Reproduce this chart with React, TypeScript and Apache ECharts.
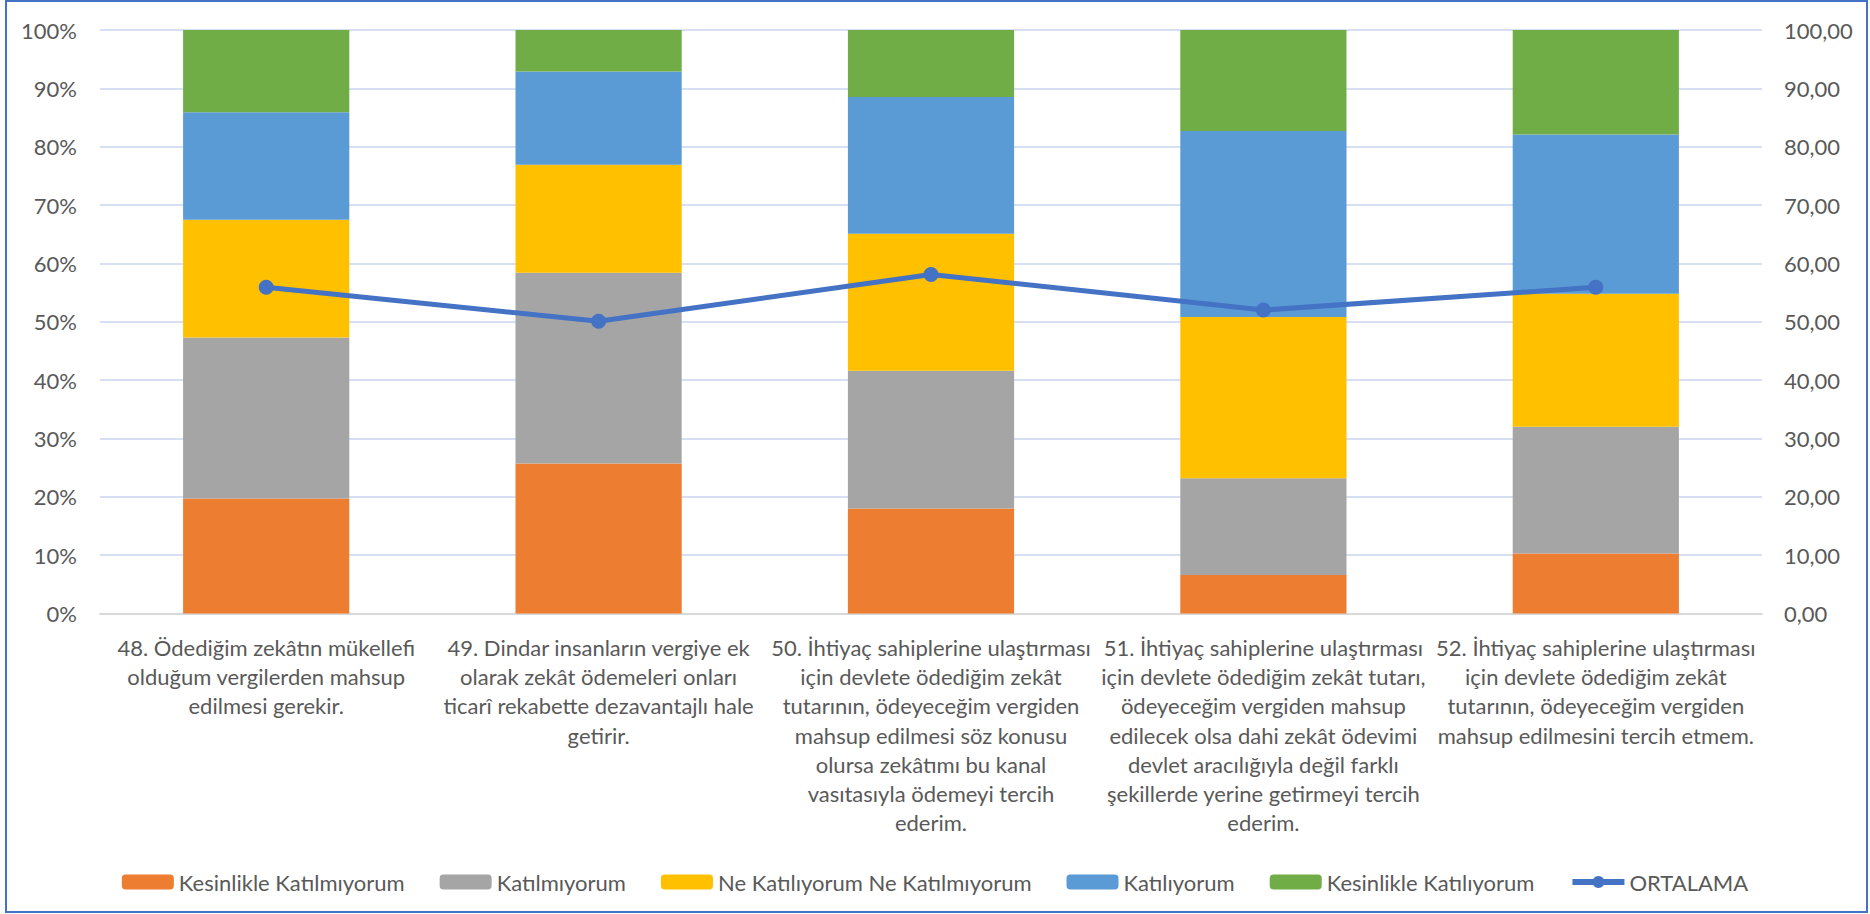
import React, { useEffect, useRef } from "react";
import * as echarts from "echarts";

const categories = [
  "48. Ödediğim zekâtın mükellefi\nolduğum vergilerden mahsup\nedilmesi gerekir.",
  "49. Dindar insanların vergiye ek\nolarak zekât ödemeleri onları\nticarî rekabette dezavantajlı hale\ngetirir.",
  "50. İhtiyaç sahiplerine ulaştırması\niçin devlete ödediğim zekât\ntutarının, ödeyeceğim vergiden\nmahsup edilmesi söz konusu\nolursa zekâtımı bu kanal\nvasıtasıyla ödemeyi tercih\nederim.",
  "51. İhtiyaç sahiplerine ulaştırması\niçin devlete ödediğim zekât tutarı,\nödeyeceğim vergiden mahsup\nedilecek olsa dahi zekât ödevimi\ndevlet aracılığıyla değil farklı\nşekillerde yerine getirmeyi tercih\nederim.",
  "52. İhtiyaç sahiplerine ulaştırması\niçin devlete ödediğim zekât\ntutarının, ödeyeceğim vergiden\nmahsup edilmesini tercih etmem.",
];

const seriesNames = [
  "Kesinlikle Katılmıyorum",
  "Katılmıyorum",
  "Ne Katılıyorum Ne Katılmıyorum",
  "Katılıyorum",
  "Kesinlikle Katılıyorum",
];
const lineName = "ORTALAMA";

const kesinlikleKatilmiyorum = [19.7, 25.7, 18.0, 6.6, 10.3];
const katilmiyorum = [27.6, 32.7, 23.6, 16.6, 21.7];
const neKatiliyorumNeKatilmiyorum = [20.2, 18.5, 23.5, 27.6, 22.8];
const katiliyorum = [18.4, 16.0, 23.4, 31.9, 27.3];
const kesinlikleKatiliyorum = [14.1, 7.1, 11.5, 17.3, 17.9];
const ortalama = [55.9, 50.1, 58.1, 52.0, 55.9];

const barColors = ["#ED7D31", "#A5A5A5", "#FFC000", "#5B9BD5", "#70AD47"];
const lineColor = "#4472C4";

const FONT = "Lato";
const FS = 22;
const TXT = "#595959";

export default function App() {
  const ref = useRef<HTMLDivElement>(null);
  useEffect(() => {
    if (!ref.current) return;
    const chart = echarts.init(ref.current, null, { renderer: "svg" });
    const barData = [
      kesinlikleKatilmiyorum,
      katilmiyorum,
      neKatiliyorumNeKatilmiyorum,
      katiliyorum,
      kesinlikleKatiliyorum,
    ];
    chart.setOption({
      animation: false,
      backgroundColor: "#ffffff",
      textStyle: { fontFamily: FONT, color: TXT },
      grid: { left: 100, right: 108, top: 30, bottom: 300.5, containLabel: false },
      graphic: [
        {
          type: "rect",
          shape: { x: 6, y: 1, width: 1861, height: 911 },
          style: { fill: "none", stroke: "#4472C4", lineWidth: 2 },
          silent: true,
        },
      ],
      legend: {
        left: "center",
        top: 866,
        itemWidth: 52,
        itemHeight: 15,
        itemGap: 35,
        textStyle: { fontFamily: FONT, fontSize: FS, color: TXT },
        lineStyle: { width: 6 },
        data: [...seriesNames, lineName],
      },
      xAxis: {
        type: "category",
        data: categories,
        axisTick: { show: false },
        axisLine: { show: true, lineStyle: { color: "#D9D9D9", width: 2 } },
        axisLabel: {
          interval: 0,
          margin: 19,
          fontFamily: FONT,
          fontSize: FS,
          color: TXT,
          lineHeight: 29.3,
          align: "center",
        },
      },
      yAxis: [
        {
          type: "value",
          min: 0,
          max: 100,
          interval: 10,
          axisLine: { show: false },
          axisTick: { show: false },
          splitLine: { lineStyle: { color: "#C9D6EE", width: 1.5 } },
          axisLabel: {
            margin: 23,
            fontFamily: FONT,
            fontSize: FS,
            color: TXT,
            formatter: (v: number) => `${v}%`,
          },
        },
        {
          type: "value",
          min: 0,
          max: 100,
          interval: 10,
          position: "right",
          axisLine: { show: false },
          axisTick: { show: false },
          splitLine: { show: false },
          axisLabel: {
            margin: 22,
            fontFamily: FONT,
            fontSize: FS,
            color: TXT,
            formatter: (v: number) => v.toFixed(2).replace(".", ","),
          },
        },
      ],
      series: [
        ...barData.map((d, i) => ({
          name: seriesNames[i],
          type: "bar",
          stack: "total",
          barWidth: "50%",
          data: d,
          itemStyle: { color: barColors[i] },
          emphasis: { disabled: true },
        })),
        {
          name: lineName,
          type: "line",
          yAxisIndex: 1,
          data: ortalama,
          z: 10,
          symbol: "circle",
          symbolSize: 15,
          lineStyle: { color: lineColor, width: 5 },
          itemStyle: { color: lineColor },
          emphasis: { disabled: true },
        },
      ],
    });
    return () => chart.dispose();
  }, []);
  return (
    <div
      ref={ref}
      style={{ position: "absolute", left: 0, top: 0, width: 1870, height: 914, background: "#fff" }}
    />
  );
}
